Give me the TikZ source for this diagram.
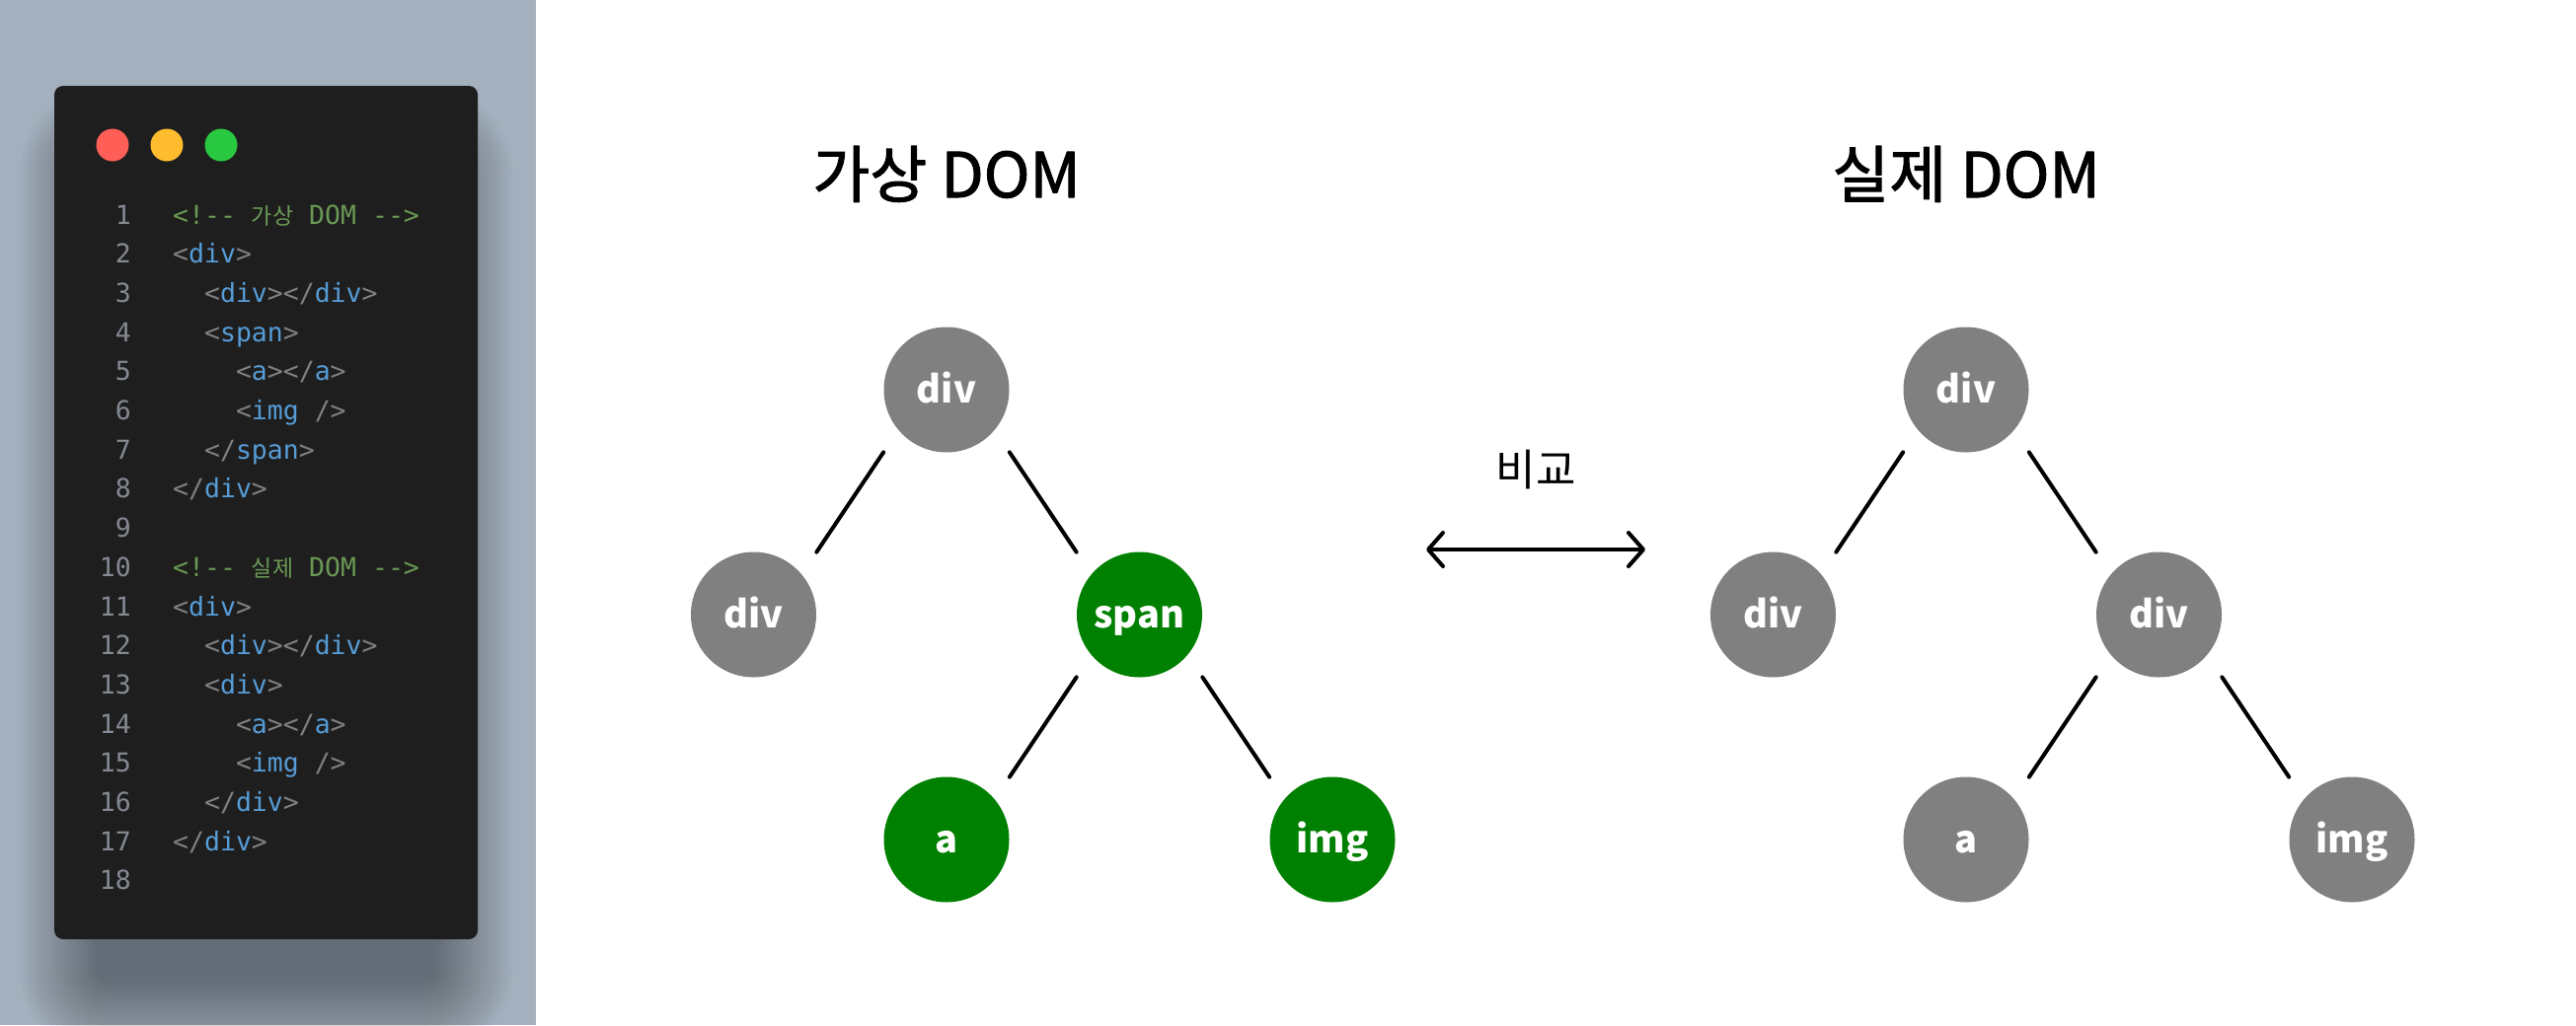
\documentclass[tikz,border=0pt]{standalone}
\usepackage{fontspec}
\setmainfont{Noto Sans CJK KR}
\setmonofont{DejaVu Sans Mono}
\newfontfamily\krfont{Noto Sans CJK KR}
\newfontfamily\titlefont{Noto Sans CJK KR}[FakeBold=1.6]
\usetikzlibrary{arrows.meta}
\definecolor{panelbg}{HTML}{A4B0BD}
\definecolor{codebg}{HTML}{1E1E1E}
\definecolor{codeno}{HTML}{858A92}
\definecolor{codetag}{HTML}{808080}
\definecolor{codename}{HTML}{569CD6}
\definecolor{codecmt}{HTML}{6A9955}
\definecolor{dotred}{HTML}{FF5F57}
\definecolor{dotyellow}{HTML}{FEBC2E}
\definecolor{dotgreen}{HTML}{28C840}
\definecolor{nodegray}{HTML}{808080}
\definecolor{nodegreen}{HTML}{008000}
% code helpers
\newcommand\tgo[1]{{\color{codetag}<}{\color{codename}#1}{\color{codetag}>}}
\newcommand\tgc[1]{{\color{codetag}</}{\color{codename}#1}{\color{codetag}>}}
\newcommand\tgs[1]{{\color{codetag}<}{\color{codename}#1}{\color{codetag}\ />}}
\newcommand\ind[1]{\hphantom{#1}}
\newcommand\hg[1]{{\krfont\fontsize{23}{30}\selectfont #1}}
\newcommand\cmt[1]{{\color{codecmt}#1}}
\tikzset{
  codetext/.style={anchor=base west, inner sep=0pt, font=\ttfamily\fontsize{26.5}{30}\selectfont},
  codenum/.style={anchor=base east, inner sep=0pt, text=codeno, font=\ttfamily\fontsize{26.5}{30}\selectfont},
  windot/.style={circle, minimum size=33pt, inner sep=0pt},
  dom/.style={circle, minimum size=127pt, inner sep=0pt, text=white, text height=27pt, text depth=0pt,
    font=\bfseries\fontsize{38}{40}\selectfont},
  virt/.style={dom, fill=nodegreen},
  real/.style={dom, fill=nodegray},
  link/.style={line width=4pt, shorten <=27pt, shorten >=27pt},
  title/.style={anchor=base, font=\titlefont\fontsize{63}{70}\selectfont},
  cmp/.style={line width=4pt, {Straight Barb[length=15pt,width=34pt,round]}-{Straight Barb[length=15pt,width=34pt,round]}}
}
\begin{document}
\begin{tikzpicture}[x=1pt, y=-1pt, line join=round, line cap=round]
	\def\dx{195.5} \def\dy{228} % tree spacing
	\def\ox{959} \def\oy{395} \def\shift{1033}
	\useasboundingbox (0,0) rectangle (2610,1039);
	% left panel with window shadow
	\begin{scope}
	\clip (0,0) rectangle (543,1039);
	\fill[panelbg] (0,0) rectangle (543,1039);
	\foreach \k [evaluate=\k as \s using \k*4, evaluate=\k as \rr using 9+\k*4] in {1,...,20}
		\fill[black, opacity=0.02, rounded corners=\rr pt] ({100-\s},{167-\s}) rectangle ({439+\s},{992+\s});
	\end{scope}
	\fill[codebg, rounded corners=9pt] (55,87) rectangle (484,952);
	\node[windot, fill=dotred] (dotR) at (114,147) {};
	\node[windot, fill=dotyellow] (dotY) at (169,147) {};
	\node[windot, fill=dotgreen] (dotG) at (224,147) {};
	% code lines
	\foreach \src [count=\i] in {
		{\cmt{<!-- \hg{가상} DOM -->}},
		{\tgo{div}},
		{\ind{aa}\tgo{div}\tgc{div}},
		{\ind{aa}\tgo{span}},
		{\ind{aaaa}\tgo{a}\tgc{a}},
		{\ind{aaaa}\tgs{img}},
		{\ind{aa}\tgc{span}},
		{\tgc{div}},
		{},
		{\cmt{<!-- \hg{실제} DOM -->}},
		{\tgo{div}},
		{\ind{aa}\tgo{div}\tgc{div}},
		{\ind{aa}\tgo{div}},
		{\ind{aaaa}\tgo{a}\tgc{a}},
		{\ind{aaaa}\tgs{img}},
		{\ind{aa}\tgc{div}},
		{\tgc{div}},
		{}}
	{
		\node[codenum] (no\i) at (133,{187.3+39.7*\i}) {\i};
		\node[codetext] (ln\i) at (175,{187.3+39.7*\i}) {\src};
	}
	% virtual DOM tree
	\node[title] (vtitle) at (\ox,200) {가상 DOM};
	\node[real] (v0) at (\ox,\oy) {div};
	\node[real] (v1) at (\ox-\dx,\oy+\dy) {div};
	\node[virt] (v2) at (\ox+\dx,\oy+\dy) {span};
	\node[virt] (v3) at (\ox,\oy+2*\dy) {a};
	\node[virt] (v4) at (\ox+2*\dx,\oy+2*\dy) {img};
	\draw[link] (v0.220) -- (v1.40);
	\draw[link] (v0.320) -- (v2.140);
	\draw[link] (v2.220) -- (v3.40);
	\draw[link] (v2.320) -- (v4.140);
	% real DOM tree
	\node[title] (rtitle) at (\ox+\shift,200) {실제 DOM};
	\node[real] (r0) at (\ox+\shift,\oy) {div};
	\node[real] (r1) at (\ox+\shift-\dx,\oy+\dy) {div};
	\node[real] (r2) at (\ox+\shift+\dx,\oy+\dy) {div};
	\node[real] (r3) at (\ox+\shift,\oy+2*\dy) {a};
	\node[real] (r4) at (\ox+\shift+2*\dx,\oy+2*\dy) {img};
	\draw[link] (r0.220) -- (r1.40);
	\draw[link] (r0.320) -- (r2.140);
	\draw[link] (r2.220) -- (r3.40);
	\draw[link] (r2.320) -- (r4.140);
	% compare arrow
	\coordinate (cmpL) at (1445,557);
	\coordinate (cmpR) at (1667,557);
	\draw[cmp] (cmpL) -- (cmpR);
	\node[font=\fontsize{44}{50}\selectfont] (cmplabel) at (1556,476) {비교};
\end{tikzpicture}
\end{document}
